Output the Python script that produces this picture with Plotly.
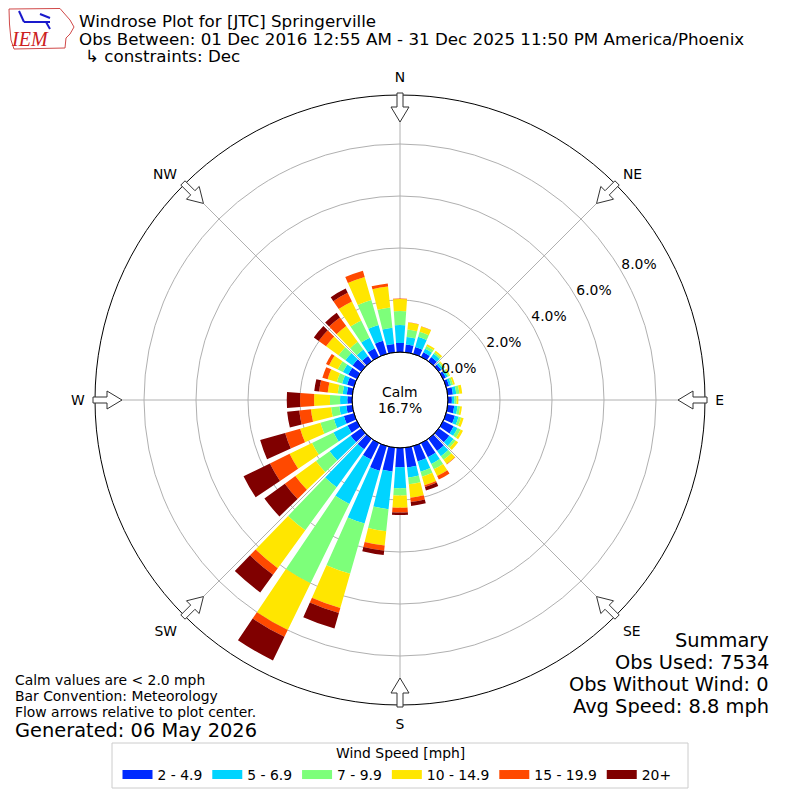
import math
import plotly.graph_objects as go

FONT = 'DejaVu Sans'
W = 800
OFF = 8   # page body margin of the saved html

directions = list(range(0, 360, 10))
speed_bins = ['2 - 4.9', '5 - 6.9', '7 - 9.9', '10 - 14.9', '15 - 19.9', '20+']
bin_colors = ['#002aff', '#00d4ff', '#7dff7a', '#ffe600', '#ff4900', '#800000']

# outer edge (cumulative %) of each speed band, per direction 0..350
edge_2 = [0.35, 0.30, 0.27, 0.20, 0.20, 0.12, 0.12, 0.12, 0.20, 0.15, 0.25, 0.35,
          0.45, 0.50, 0.58, 0.60, 0.61, 0.76, 0.74, 0.92, 0.98, 0.70, 0.50, 0.50,
          0.40, 0.40, 0.23, 0.18, 0.21, 0.27, 0.37, 0.41, 0.25, 0.37, 0.52, 0.32]
edge_5 = [1.04, 0.59, 0.68, 0.35, 0.35, 0.20, 0.20, 0.20, 0.33, 0.25, 0.38, 0.50,
          0.62, 0.70, 0.83, 0.89, 1.02, 1.15, 1.55, 2.38, 3.10, 2.60, 2.30, 1.50,
          1.00, 0.80, 0.50, 0.46, 0.37, 0.47, 0.60, 0.75, 0.55, 0.82, 1.15, 0.95]
edge_7 = [1.58, 0.88, 0.88, 0.46, 0.42, 0.26, 0.26, 0.28, 0.45, 0.33, 0.48, 0.60,
          0.75, 0.80, 1.00, 1.12, 1.22, 1.41, 1.83, 3.23, 5.11, 6.00, 4.35, 2.15,
          1.92, 1.34, 0.82, 0.85, 0.56, 0.68, 0.82, 1.08, 0.92, 1.56, 2.15, 1.73]
edge_10 = [2.04, 1.15, 1.09, 0.54, 0.49, 0.30, 0.30, 0.35, 0.56, 0.40, 0.55, 0.70,
           0.85, 0.92, 1.20, 1.41, 1.56, 1.93, 2.30, 3.78, 6.48, 8.00, 6.15, 3.13,
           2.88, 2.15, 1.60, 1.46, 0.95, 1.05, 1.19, 1.67, 1.67, 2.37, 3.08, 2.54]
edge_15 = [2.06, 1.16, 1.10, 0.54, 0.49, 0.30, 0.30, 0.35, 0.56, 0.40, 0.55, 0.70,
           0.85, 0.92, 1.22, 1.56, 1.63, 2.10, 2.48, 3.98, 6.68, 8.29, 6.46, 3.63,
           3.72, 2.75, 2.05, 2.00, 1.28, 1.26, 1.32, 2.02, 2.08, 2.74, 3.33, 2.66]
edge_20 = [2.06, 1.16, 1.10, 0.54, 0.49, 0.30, 0.30, 0.35, 0.56, 0.40, 0.55, 0.70,
           0.85, 0.92, 1.22, 1.56, 1.77, 2.25, 2.58, 4.15, 7.30, 9.30, 7.30, 4.60,
           4.85, 3.75, 2.52, 2.51, 1.47, 1.26, 1.32, 2.25, 2.30, 2.92, 3.33, 2.66]

ring_values = [0, 2, 4, 6, 8]
ring_labels = ['0.0%', '2.0%', '4.0%', '6.0%', '8.0%']
compass_angles = [0, 45, 90, 135, 180, 225, 270, 315]
compass_labels = ['N', 'NE', 'E', 'SE', 'S', 'SW', 'W', 'NW']

calm_pct = '16.7%'
title_lines = ['Windrose Plot for [JTC] Springerville',
               'Obs Between: 01 Dec 2016 12:55 AM - 31 Dec 2025 11:50 PM America/Phoenix',
               '↳ constraints: Dec']
notes = ['Calm values are < 2.0 mph', 'Bar Convention: Meteorology',
         'Flow arrows relative to plot center.']
generated = 'Generated: 06 May 2026'
summary = ['Summary', 'Obs Used: 7534', 'Obs Without Wind: 0', 'Avg Speed: 8.8 mph']
legend_title = 'Wind Speed [mph]'

CX, CY = 400, 400   # центр розы в окне
R_OUT = 305         # радиус круга, px
R_HOLE = 48         # радиус круга штиля, px
PX_PER_PCT = 26
LABEL_ANGLE = 60


def px(x, y):
    """пиксели окна -> координаты paper"""
    return (x - OFF) / W, 1 - (y - OFF) / W


def arrow_path(angle):
    """Контурная стрелка на краю круга, направленная к центру"""
    a = math.radians(angle)
    ux, uy = math.sin(a), -math.cos(a)
    vx, vy = math.cos(a), math.sin(a)
    pts = [(307, 3), (293, 3), (293, 9), (278, 0), (293, -9), (293, -3), (307, -3)]
    out = []
    for r, w in pts:
        out.append('%.5f,%.5f' % px(CX + r * ux + w * vx, CY + r * uy + w * vy))
    return 'M ' + ' L '.join(out) + ' Z'


def ring_label_pos(v):
    """Позиция подписи кольца: на 20 px дальше по лучу и на 4 px ниже"""
    a = math.radians(LABEL_ANGLE)
    rp = R_HOLE + PX_PER_PCT * v + 20
    x = rp * math.sin(a)
    y = rp * math.cos(a) - 4
    return (math.hypot(x, y) - R_HOLE) / PX_PER_PCT, math.degrees(math.atan2(x, y))


def note(text, x, y, size, xanchor='left', **kw):
    xp, yp = px(x, y)
    d = dict(text=text, x=xp, y=yp, xref='paper', yref='paper', xanchor=xanchor,
             yanchor='middle', showarrow=False,
             font=dict(family=kw.pop('family', FONT), size=size, color=kw.pop('color', 'black')))
    d.update(kw)
    return d


fig = go.Figure()

prev = [0] * len(directions)
for name, color, edge in zip(speed_bins, bin_colors,
                             [edge_2, edge_5, edge_7, edge_10, edge_15, edge_20]):
    vals = [round(e - p, 3) for e, p in zip(edge, prev)]
    fig.add_trace(go.Barpolar(r=vals, theta=directions, width=8, name=name, showlegend=False,
                              marker=dict(color=color, line=dict(width=0))))
    prev = edge

# пустые линии только для легенды (широкие прямоугольники как в оригинале)
for name, color in zip(speed_bins, bin_colors):
    fig.add_trace(go.Scatterpolar(r=[None], theta=[None], mode='lines', name=name,
                                  line=dict(color=color, width=9)))

# подписи колец
pos = [ring_label_pos(v) for v in ring_values]
fig.add_trace(go.Scatterpolar(r=[p[0] for p in pos], theta=[p[1] for p in pos],
                              mode='text', text=ring_labels, showlegend=False, hoverinfo='skip',
                              textfont=dict(family=FONT, size=13.9, color='black')))

dx0, dy1 = px(CX - R_OUT, CY - R_OUT)
dx1, dy0 = px(CX + R_OUT, CY + R_OUT)

shapes = []
x0, y1 = px(CX - R_HOLE, CY - R_HOLE)
x1, y0 = px(CX + R_HOLE, CY + R_HOLE)
shapes.append(dict(type='circle', xref='paper', yref='paper', x0=x0, x1=x1, y0=y0, y1=y1,
                   line=dict(color='black', width=1), fillcolor='rgba(0,0,0,0)'))
for ang in compass_angles:
    shapes.append(dict(type='path', xref='paper', yref='paper', path=arrow_path(ang),
                       fillcolor='white', line=dict(color='#333333', width=1), layer='above'))

# рамка легенды
x0, y1 = px(112, 743)
x1, y0 = px(688, 788)
shapes.append(dict(type='rect', xref='paper', yref='paper', x0=x0, x1=x1, y0=y0, y1=y1,
                   line=dict(color='#cccccc', width=1), fillcolor='rgba(0,0,0,0)'))

# логотип IEM (упрощенно)
iowa = [(9, 9), (60, 8.5), (63, 12), (70, 20), (74, 27), (70, 34), (66, 38), (65, 48),
        (14, 49), (11, 40), (9.5, 24)]
shapes.append(dict(type='path', xref='paper', yref='paper',
                   path='M ' + ' L '.join('%.5f,%.5f' % px(x, y) for x, y in iowa) + ' Z',
                   line=dict(color='#d04848', width=1)))
for (ax, ay), (bx, by) in [((24, 22), (50, 22)), ((19, 11), (24, 22)), ((40, 14), (50, 18)),
                           ((46, 22), (50, 29))]:
    lx0, ly0 = px(ax, ay)
    lx1, ly1 = px(bx, by)
    shapes.append(dict(type='line', xref='paper', yref='paper', x0=lx0, y0=ly0, x1=lx1, y1=ly1,
                       line=dict(color='#1a1acc', width=2)))

annotations = []
annotations.append(note(title_lines[0], 77, 21, 16.7))
annotations.append(note(title_lines[1], 77, 39, 16.7))
annotations.append(note(title_lines[2], 83, 56, 16.7))
annotations.append(note('<i>IEM</i>', 30, 39, 20, xanchor='center', family='Liberation Serif',
                        color='#cc2020'))

annotations.append(note('Calm', CX, 392, 13.9, xanchor='center'))
annotations.append(note(calm_pct, CX, 408, 13.9, xanchor='center'))

for i, line in enumerate(notes):
    annotations.append(note(line, 13, 680 + 16.2 * i, 13.9))
annotations.append(note(generated, 13, 730, 19.4))

for i, line in enumerate(summary):
    annotations.append(note(line, 771, 640 + 22.2 * i, 19.4, xanchor='right'))

annotations.append(note(legend_title, CX, 753, 13.9, xanchor='center'))

fig.update_layout(
    width=W, height=W,
    margin=dict(l=0, r=0, t=0, b=0),
    paper_bgcolor='white',
    font=dict(family=FONT, size=13.9, color='black'),
    polar=dict(
        domain=dict(x=[dx0, dx1], y=[dy0, dy1]),
        hole=R_HOLE / R_OUT,
        bgcolor='white',
        barmode='stack',
        radialaxis=dict(range=[0, (R_OUT - R_HOLE) / PX_PER_PCT], tickmode='array',
                        tickvals=ring_values, showticklabels=False, ticks='', showline=False,
                        gridcolor='#b0b0b0', gridwidth=1, layer='below traces'),
        angularaxis=dict(direction='clockwise', rotation=90, tickmode='array',
                         tickvals=compass_angles, ticktext=compass_labels,
                         ticks='outside', ticklen=7, tickcolor='rgba(0,0,0,0)',
                         showline=True, linecolor='black', linewidth=1,
                         gridcolor='#b0b0b0', gridwidth=1, layer='below traces',
                         tickfont=dict(family=FONT, size=13.9, color='black')),
    ),
    showlegend=True,
    legend=dict(orientation='h', x=px(CX - 3, 0)[0], xanchor='center',
                y=px(0, 775)[1], yanchor='middle', traceorder='normal',
                bgcolor='rgba(0,0,0,0)', borderwidth=0,
                font=dict(family=FONT, size=13.9, color='black'), itemwidth=30),
    shapes=shapes,
    annotations=annotations,
)

fig.write_html('out.html')
